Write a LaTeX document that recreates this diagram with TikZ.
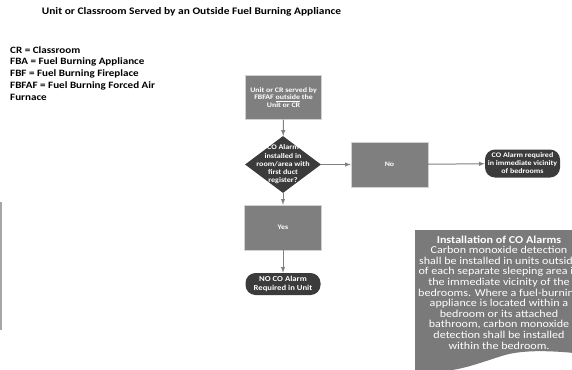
\documentclass[tikz,border=0pt]{standalone}
\usepackage{fontspec}
\setmainfont{Carlito}[FakeStretch=1.14]
\usepackage{tikz}
\usetikzlibrary{arrows.meta,positioning,shapes.geometric,calc}

\definecolor{boxgray}{HTML}{7F7F7F}
\definecolor{termgray}{HTML}{3B3B3B}
\definecolor{notegray}{HTML}{7A7A7A}

\begin{document}
\begin{tikzpicture}[x=1pt,y=-1pt,>=latex,
  procbox/.style={draw=gray!35,fill=boxgray,minimum width=76pt,minimum height=44pt,inner sep=1pt,
    text=white,align=center,font=\fontsize{6.9}{7.6}\selectfont\bfseries},
  decbox/.style={diamond,fill=termgray,minimum width=76pt,minimum height=57pt,inner sep=0pt},
  termbox/.style={fill=termgray,rounded corners=10pt,minimum width=75pt,inner sep=1pt,
    text=white,align=center,font=\fontsize{7.2}{8.4}\selectfont\bfseries},
  wtext/.style={text=white,align=center,inner sep=0pt,font=\fontsize{7.1}{8.3}\selectfont\bfseries},
  flow/.style={->,draw=gray,line width=1pt}]
  \useasboundingbox (0,0) rectangle (572,369);

  % title and legend
  \node[font=\fontsize{10}{12}\selectfont\bfseries] (title) at (191.5,12)
    {Unit or Classroom Served by an Outside Fuel Burning Appliance};
  \node[anchor=north west,align=left,inner sep=0pt,font=\fontsize{9.7}{11.75}\selectfont\bfseries] (legend) at (10,46)
    {CR = Classroom\\FBA = Fuel Burning Appliance\\FBF = Fuel Burning Fireplace\\FBFAF = Fuel Burning Forced Air\\Furnace};
  \draw[gray!70,line width=1.5pt] (1,202)--(1,330);

  % flow chart
  \node[procbox] (start) at (283.5,97.5) {Unit or CR served by\\FBFAF \underline{outside} the\\Unit or CR};
  \node[decbox] (dec) at (283,164.5) {};
  \node[wtext] (dectext) at (dec) {CO Alarm\\installed in\\room/area with\\first duct\\register?};
  \node[procbox,minimum width=77pt,minimum height=45pt] (no) at (389.5,164.5) {No};
  \node[procbox,minimum width=77pt,minimum height=45pt] (yes) at (283,227.5) {Yes};
  \node[termbox,minimum height=22pt,font=\fontsize{7.6}{9}\selectfont\bfseries] (noco) at (283,284) {NO CO Alarm\\Required in Unit};
  \node[termbox,minimum height=28pt,font=\fontsize{7}{8}\selectfont\bfseries] (req) at (522.5,163.5) {CO Alarm required\\in immediate vicinity\\of bedrooms};

  \draw[flow] (start)--(dec);
  \draw[flow] (dec)--(no);
  \draw[flow] (dec)--(yes);
  \draw[flow] (yes)--(noco);
  \draw[flow] (no)--(req);

  % note
  \begin{scope}
    \clip (0,0) rectangle (572,369);
    \fill[notegray] (415,230)--(600,230)--(600,356)
      .. controls (570,352) and (530,348) .. (505,355)
      .. controls (475,364) and (450,376) .. (415,370)--cycle;
    \node[text=white,align=center,inner sep=0pt,font=\fontsize{10.6}{10.6}\selectfont] (note) at (499,292.5)
      {\bfseries Installation of CO Alarms\\
       Carbon monoxide detection\\shall be installed in units outside\\of each separate sleeping area in\\
       the immediate vicinity of the\\bedrooms. Where a fuel-burning\\appliance is located within a\\
       bedroom or its attached\\bathroom, carbon monoxide\\detection shall be installed\\within the bedroom.};
  \end{scope}
\end{tikzpicture}
\end{document}
